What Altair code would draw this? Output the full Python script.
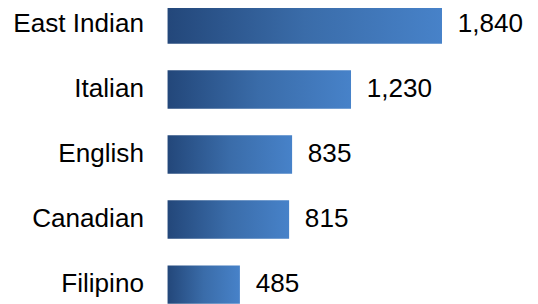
import altair as alt
import pandas as pd

categories = ["East Indian", "Italian", "English", "Canadian", "Filipino"]
values = [1840, 1230, 835, 815, 485]
value_labels = ["1,840", "1,230", "835", "815", "485"]

df = pd.DataFrame({"cat": categories, "val": values, "lab": value_labels})

y_enc = alt.Y("cat:N", sort=categories, axis=None,
              scale=alt.Scale(range=[-5, 298], paddingInner=0.41, paddingOuter=0))
x_scale = alt.Scale(domain=[0, 2430], nice=False, zero=True)

grad = alt.Gradient(
    gradient="linear",
    stops=[alt.GradientStop(color="#23477a", offset=0),
           alt.GradientStop(color="#3a6ca9", offset=0.5),
           alt.GradientStop(color="#4782c9", offset=1)],
    x1=0, x2=1, y1=0, y2=0,
)

base = alt.Chart(df)

bars = base.mark_bar(color=grad, cornerRadius=0).encode(
    x=alt.X("val:Q", scale=x_scale, axis=None),
    y=y_enc,
)

vals = base.mark_text(align="left", baseline="middle", dx=16, fontSize=26.5,
                      font="Liberation Sans", color="#000000").encode(
    x=alt.X("val:Q", scale=x_scale, axis=None),
    y=y_enc,
    text="lab:N",
)

cats = base.mark_text(align="right", baseline="middle", fontSize=26.5,
                      font="Liberation Sans", color="#000000").encode(
    x=alt.value(-24),
    y=y_enc,
    text="cat:N",
)

chart = alt.layer(bars, vals, cats).properties(
    width=368, height=296,
    autosize=alt.AutoSizeParams(type="none"),
    padding={"left": 162, "top": 0, "right": 0, "bottom": 0},
).configure_view(stroke=None)

chart.save("out.html", embed_options={"renderer": "svg", "actions": False})
